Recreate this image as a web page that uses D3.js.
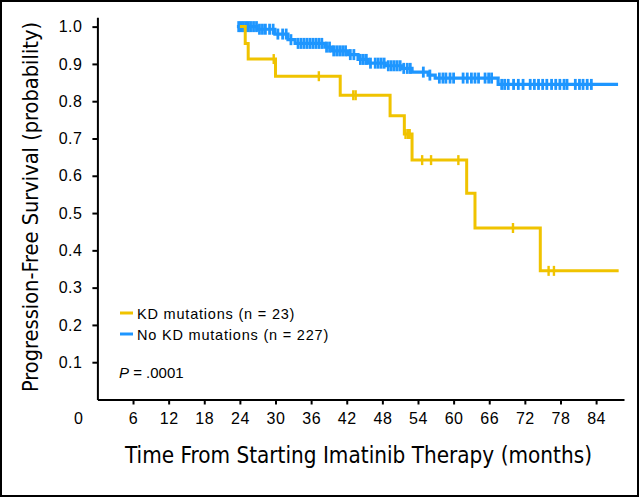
<!DOCTYPE html>
<html><head><meta charset="utf-8">
<script src="https://cdn.jsdelivr.net/npm/d3@7"></script>
<style>
html,body{margin:0;padding:0;background:#fff;}
svg{display:block;}
</style></head>
<body>
<script>
// ---- data ----
const xTicks = [6, 12, 18, 24, 30, 36, 42, 48, 54, 60, 66, 72, 78, 84];
const yTicks = [0.1, 0.2, 0.3, 0.4, 0.5, 0.6, 0.7, 0.8, 0.9, 1.0];

// KD mutations (n = 23): step times (months) and survival after each step
const kdTimes = [24.0, 24.9, 25.4, 30.0, 40.9, 49.3, 51.7, 53.0, 62.2, 63.6, 74.6];
const kdSurv  = [1.0, 0.955, 0.913, 0.867, 0.816, 0.761, 0.712, 0.642, 0.553, 0.460, 0.345];
const kdEnd = 87.8;
const kdCensor = [29.7, 37.3, 43.1, 43.5, 51.9, 52.3, 52.6, 54.7, 56.2, 60.8, 70.0, 76.0, 76.9];

// No KD mutations (n = 227)
const noTimes = [23.5, 26.9, 29.9, 32.1, 33.3, 38.3, 39.5, 42.2, 43.9, 45.6, 48.5, 51.3, 53.0, 55.7, 56.9, 67.5];
const noSurv  = [1.0, 0.993, 0.980, 0.965, 0.955, 0.945, 0.935, 0.925, 0.912, 0.902, 0.895, 0.888, 0.878, 0.870, 0.862, 0.845];
const noEnd = 87.7;
const noCensor = [23.8, 24.2, 24.6, 25.0, 25.4, 25.8, 26.3, 26.8, 27.3, 27.8, 28.3,
  29.0, 29.6, 30.4, 31.2, 31.8, 32.6,
  33.8, 34.3, 34.8, 35.3, 35.8, 36.3, 36.8, 37.3, 37.8, 38.6, 39.1, 39.8, 40.3, 40.8, 41.3, 41.8,
  42.6, 43.2, 44.3, 44.8, 45.3, 46.0,
  46.8, 47.3, 47.8, 48.3, 49.0, 49.5, 50.0, 50.5, 51.0, 51.6, 52.2, 52.7,
  54.9, 56.0,
  57.6, 58.2, 58.7, 59.4, 60.0, 61.6, 62.3, 63.0, 63.6, 64.2, 65.3, 65.9, 66.4,
  68.1, 68.6, 69.2, 70.1, 70.9, 71.7, 72.9, 73.6, 74.3, 75.0, 75.7, 76.5, 77.2, 77.9, 78.6, 79.1,
  80.5, 81.2, 81.8, 82.5, 83.2];

const seriesNames = ["KD mutations (n = 23)", "No KD mutations (n = 227)"];
const colors = ["#f0c300", "#1e96ff"];

// ---- drawing ----
const W = 640, H = 497;
const svg = d3.select("body").append("svg").attr("width", W).attr("height", H);
svg.append("rect").attr("x", 1).attr("y", 1).attr("width", 637).attr("height", 495)
  .attr("fill", "#fff").attr("stroke", "#000").attr("stroke-width", 2);

const x = d3.scaleLinear().domain([0, 88.7]).range([97.4, 624]);
const y = d3.scaleLinear().domain([0, 1.025]).range([399.5, 17.3]);

const tickFont = "'Liberation Sans', Arial, sans-serif";

const gx = svg.append("g").attr("transform", `translate(0,${y(0)})`)
  .call(d3.axisBottom(x).tickValues(xTicks).tickSize(5).tickSizeOuter(0).tickPadding(8).tickFormat(d3.format("d")));
const gy = svg.append("g").attr("transform", `translate(${x(0)},0)`)
  .call(d3.axisLeft(y).tickValues(yTicks).tickSize(5).tickSizeOuter(0).tickPadding(10).tickFormat(d3.format(".1f")));
[gx, gy].forEach(g => {
  g.select(".domain").attr("stroke", "#000").attr("stroke-width", 2);
  g.selectAll(".tick line").attr("stroke", "#000").attr("stroke-width", 2);
  g.selectAll(".tick text").attr("fill", "#000").style("font-family", tickFont)
    .style("font-size", "16px").style("letter-spacing", "0.5px");
});
// corner "0" label
svg.append("text").attr("x", 78.5).attr("y", y(0) + 13).attr("dy", "0.71em")
  .attr("text-anchor", "middle").style("font-family", tickFont).style("font-size", "16px").text("0");

// step path builder
function stepPath(times, surv, end) {
  const pts = times.map((t, i) => [t, surv[i]]);
  pts.push([end, surv[surv.length - 1]]);
  return d3.line().x(d => x(d[0])).y(d => y(d[1])).curve(d3.curveStepAfter)(pts);
}
function survAt(times, surv, t) {
  let v = surv[0];
  for (let i = 0; i < times.length; i++) if (times[i] <= t) v = surv[i];
  return v;
}

const series = [
  {times: noTimes, surv: noSurv, end: noEnd, censor: noCensor, color: colors[1], w: 3.2, tw: 2.8, th: 5.5},
  {times: kdTimes, surv: kdSurv, end: kdEnd, censor: kdCensor, color: colors[0], w: 3, tw: 2.4, th: 5}
];
series.forEach(s => {
  svg.append("path").attr("d", stepPath(s.times, s.surv, s.end))
    .attr("fill", "none").attr("stroke", s.color).attr("stroke-width", s.w);
  svg.append("g").selectAll("line").data(s.censor).join("line")
    .attr("x1", d => x(d)).attr("x2", d => x(d))
    .attr("y1", d => y(survAt(s.times, s.surv, d)) - s.th)
    .attr("y2", d => y(survAt(s.times, s.surv, d)) + s.th)
    .attr("stroke", s.color).attr("stroke-width", s.tw);
});

// legend
const lg = svg.append("g");
seriesNames.forEach((name, i) => {
  const yy = 313 + i * 21;
  lg.append("line").attr("x1", 120).attr("x2", 133).attr("y1", yy).attr("y2", yy)
    .attr("stroke", colors[i]).attr("stroke-width", 3);
  lg.append("text").attr("x", 137).attr("y", yy + 5.5)
    .style("font-family", tickFont).style("font-size", "14.5px").style("letter-spacing", "0.8px")
    .text(name);
});
const pt = svg.append("text").attr("x", 119).attr("y", 378)
  .style("font-family", tickFont).style("font-size", "15px");
pt.append("tspan").style("font-style", "italic").text("P");
pt.append("tspan").text(" = .0001");

// axis titles
const titleFont = "'Liberation Sans Narrow', 'DejaVu Sans Condensed', 'Roboto Condensed', sans-serif";
svg.append("text").attr("x", 358.5).attr("y", 463).attr("text-anchor", "middle")
  .style("font-family", titleFont).style("font-size", "23px")
  .attr("textLength", 467).attr("lengthAdjust", "spacingAndGlyphs")
  .text("Time From Starting Imatinib Therapy (months)");
svg.append("text").attr("transform", "translate(38,207) rotate(-90)").attr("text-anchor", "middle")
  .style("font-family", titleFont).style("font-size", "22px")
  .attr("textLength", 370).attr("lengthAdjust", "spacingAndGlyphs")
  .text("Progression-Free Survival (probability)");
</script>
</body></html>
